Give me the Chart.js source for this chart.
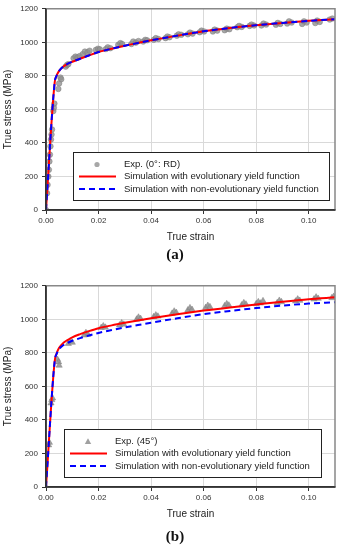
<!DOCTYPE html>
<html>
<head>
<meta charset="utf-8">
<script src="https://cdn.jsdelivr.net/npm/chart.js"></script>
<style>
  body { margin: 0; background: #fff; width: 340px; height: 550px; position: relative; overflow: hidden; }
  .box { position: absolute; left: 0; width: 340px; height: 250px; }
  .cap { position: absolute; width: 40px; left: 155px; text-align: center; font: bold 15px "Liberation Serif", "DejaVu Serif", serif; color: #111; }
</style>
</head>
<body>
<div class="box" style="top:0"><canvas id="chartA"></canvas></div>
<div class="cap" style="top:246px">(a)</div>
<div class="box" style="top:277px"><canvas id="chartB"></canvas></div>
<div class="cap" style="top:528px">(b)</div>
<script>
// ejes
const xTicks = [0, 0.02, 0.04, 0.06, 0.08, 0.10];
const yTicks = [0, 200, 400, 600, 800, 1000, 1200];

// curvas de simulacion (a) 0 grados
const simStrainA = [0, 0.0033, 0.004, 0.005, 0.0065, 0.008, 0.010, 0.013, 0.016, 0.02, 0.025, 0.03, 0.035, 0.04, 0.05, 0.06, 0.07, 0.08, 0.09, 0.10, 0.11];
const evoStressA = [0, 760, 800, 830, 855, 870, 884, 902, 920, 942, 962, 980, 996, 1012, 1040, 1066, 1086, 1102, 1116, 1128, 1138];
const nonStressA = [0, 760, 800, 830, 855, 870, 884, 902, 920, 942, 962, 980, 996, 1012, 1040, 1066, 1086, 1102, 1116, 1128, 1138];

// experimental (a)
const expStrainA = [0, 0.0004, 0.0006, 0.0009, 0.0011, 0.0013, 0.0015, 0.0017, 0.0019, 0.0021, 0.0023, 0.0028, 0.0030, 0.0032,
  0.0047, 0.0050, 0.0055, 0.0058,
  0.0075, 0.0080, 0.0085, 0.0105, 0.0112, 0.0120, 0.0128, 0.0140, 0.0148, 0.0158, 0.0166,
  0.0190, 0.0198, 0.0205, 0.0228, 0.0235, 0.0245, 0.0275, 0.0283, 0.0290,
  0.0325, 0.0332, 0.0342, 0.0352, 0.0370, 0.0378, 0.0385, 0.0410, 0.0418, 0.0428,
  0.0455, 0.0462, 0.0470, 0.0498, 0.0505, 0.0515, 0.0540, 0.0548, 0.0558,
  0.0585, 0.0592, 0.0602, 0.0635, 0.0642, 0.0652, 0.0680, 0.0688, 0.0698,
  0.0728, 0.0735, 0.0745, 0.0775, 0.0782, 0.0792, 0.0820, 0.0828, 0.0838,
  0.0875, 0.0882, 0.0892, 0.0918, 0.0925, 0.0935, 0.0975, 0.0982, 0.0992,
  0.1025, 0.1032, 0.1042, 0.1080, 0.1090];
const expStressA = [0, 100, 150, 200, 240, 290, 330, 380, 420, 450, 480, 590, 610, 635,
  722, 755, 790, 780,
  855, 865, 870, 905, 915, 910, 918, 930, 945, 940, 950,
  955, 962, 958, 960, 970, 965, 985, 995, 990,
  990, 1005, 998, 1008, 1005, 1015, 1012, 1015, 1025, 1020,
  1025, 1035, 1030, 1040, 1048, 1045, 1048, 1058, 1052,
  1060, 1070, 1065, 1065, 1076, 1070, 1072, 1082, 1078,
  1090, 1098, 1092, 1098, 1106, 1100, 1100, 1112, 1106,
  1105, 1116, 1110, 1112, 1125, 1118, 1110, 1125, 1118,
  1115, 1130, 1122, 1136, 1142];

// curvas de simulacion (b) 45 grados
const simStrainB = [0, 0.0033, 0.004, 0.005, 0.0065, 0.008, 0.010, 0.013, 0.016, 0.02, 0.025, 0.03, 0.035, 0.04, 0.05, 0.06, 0.07, 0.08, 0.09, 0.10, 0.11];
const evoStressB = [0, 750, 795, 830, 858, 875, 893, 912, 928, 947, 964, 979, 993, 1006, 1030, 1052, 1071, 1088, 1105, 1120, 1131];
const nonStressB = [0, 750, 792, 822, 845, 858, 872, 888, 902, 919, 936, 952, 966, 980, 1006, 1031, 1050, 1067, 1082, 1094, 1102];

// experimental (b)
const expStrainB = [0, 0.0010, 0.0013, 0.0019, 0.0022, 0.0025, 0.0044, 0.0048, 0.0050,
  0.0085, 0.0092, 0.0100, 0.0145, 0.0152, 0.0160, 0.0210, 0.0218, 0.0226,
  0.0280, 0.0288, 0.0296, 0.0345, 0.0352, 0.0360, 0.0410, 0.0418, 0.0426,
  0.0480, 0.0488, 0.0496, 0.0540, 0.0548, 0.0556, 0.0608, 0.0616, 0.0624,
  0.0680, 0.0688, 0.0696, 0.0745, 0.0753, 0.0761, 0.0800, 0.0808, 0.0816, 0.0826,
  0.0880, 0.0888, 0.0896, 0.0950, 0.0958, 0.0966, 0.1020, 0.1028, 0.1036, 0.1088, 0.1095];
const expStressB = [0, 250, 265, 500, 520, 530, 760, 745, 725,
  855, 870, 862, 905, 920, 910, 950, 960, 952,
  965, 978, 970, 1000, 1012, 1004, 1015, 1025, 1018,
  1035, 1048, 1040, 1055, 1068, 1058, 1070, 1082, 1074,
  1080, 1092, 1084, 1085, 1098, 1090, 1092, 1104, 1096, 1110,
  1098, 1112, 1104, 1108, 1120, 1112, 1120, 1132, 1124, 1128, 1136];

const FONT = '"Liberation Sans", Arial, sans-serif';

function toPoints(xs, ys) {
  return xs.map((x, i) => ({ x: x, y: ys[i] }));
}

// marco gris arriba / derecha
const plotFrame = {
  id: 'plotFrame',
  afterDatasetsDraw(chart) {
    const { ctx, chartArea: a } = chart;
    ctx.save();
    ctx.strokeStyle = '#888';
    ctx.lineWidth = 1.5;
    ctx.beginPath();
    ctx.moveTo(a.left, a.top);
    ctx.lineTo(a.right, a.top);
    ctx.lineTo(a.right, a.bottom);
    ctx.stroke();
    ctx.strokeStyle = '#333';
    ctx.beginPath();
    ctx.moveTo(a.left, a.top);
    ctx.lineTo(a.left, a.bottom);
    ctx.lineTo(a.right, a.bottom);
    ctx.stroke();
    ctx.restore();
  }
};

// leyenda con recuadro dentro del area
const legendBox = {
  id: 'legendBox',
  afterDraw(chart, args, opts) {
    const { ctx, chartArea: a } = chart;
    const left = a.right - opts.right - opts.width;
    const top = a.bottom - opts.bottom - opts.height;
    const rows = [12.5, 24.5, 37];
    ctx.save();
    ctx.fillStyle = '#fff';
    ctx.fillRect(left, top, opts.width, opts.height);
    ctx.strokeStyle = '#222';
    ctx.lineWidth = 1;
    ctx.strokeRect(left + 0.5, top + 0.5, opts.width, opts.height);
    chart.data.datasets.forEach((ds, i) => {
      const y = top + rows[i];
      if (ds.showLine) {
        ctx.strokeStyle = ds.borderColor;
        ctx.lineWidth = 2;
        ctx.setLineDash(ds.borderDash || []);
        ctx.beginPath();
        ctx.moveTo(left + 6, y);
        ctx.lineTo(left + 43, y);
        ctx.stroke();
        ctx.setLineDash([]);
      } else {
        const cx = left + 24;
        ctx.fillStyle = ds.backgroundColor;
        ctx.beginPath();
        if (ds.pointStyle === 'triangle') {
          ctx.moveTo(cx, y - 3.2);
          ctx.lineTo(cx + 3.2, y + 2.4);
          ctx.lineTo(cx - 3.2, y + 2.4);
          ctx.closePath();
        } else {
          ctx.arc(cx, y, 2.6, 0, Math.PI * 2);
        }
        ctx.fill();
      }
      ctx.fillStyle = '#222';
      ctx.font = '9.5px ' + FONT;
      ctx.textBaseline = 'middle';
      ctx.textAlign = 'left';
      ctx.fillText(ds.label, left + 51, y);
    });
    ctx.restore();
  }
};

function makeChart(id, expLabel, expStyle, exp, evo, non, legendPos) {
  const ctx = document.getElementById(id).getContext('2d');
  return new Chart(ctx, {
    type: 'scatter',
    data: {
      datasets: [
        {
          label: expLabel,
          data: exp,
          pointStyle: expStyle,
          pointRadius: expStyle === 'triangle' ? 3.6 : 2.8,
          backgroundColor: expStyle === 'triangle' ? 'rgba(150,150,150,0.9)' : 'rgba(145,145,145,0.8)',
          borderColor: 'rgba(125,125,125,0.9)',
          borderWidth: 0.5,
          showLine: false,
          order: 3,
        },
        {
          label: 'Simulation with evolutionary yield function',
          data: evo,
          showLine: true,
          borderColor: '#ff0000',
          backgroundColor: '#ff0000',
          borderWidth: 2,
          pointRadius: 0,
          cubicInterpolationMode: 'monotone',
          order: 2,
        },
        {
          label: 'Simulation with non-evolutionary yield function',
          data: non,
          showLine: true,
          borderColor: '#0000ff',
          backgroundColor: '#0000ff',
          borderWidth: 2,
          borderDash: [6, 4],
          pointRadius: 0,
          cubicInterpolationMode: 'monotone',
          order: 1,
        },
      ],
    },
    options: {
      responsive: true,
      maintainAspectRatio: false,
      animation: false,
      layout: { padding: { top: 7, right: 5, left: 0, bottom: 0 } },
      plugins: {
        legend: { display: false },
        tooltip: { enabled: false },
        legendBox: legendPos,
      },
      scales: {
        x: {
          type: 'linear',
          min: 0,
          max: 0.11,
          afterBuildTicks: (axis) => { axis.ticks = xTicks.map(v => ({ value: v })); },
          afterFit: (axis) => { axis.height = 40; },
          grid: { color: '#d9d9d9', lineWidth: 1, tickLength: 4, tickColor: '#333' },
          border: { color: '#333', width: 1.5 },
          ticks: {
            padding: 2,
            color: '#333',
            font: { family: FONT, size: 8 },
            maxRotation: 0,
            callback: (v) => v.toFixed(2),
          },
          title: {
            display: true,
            text: 'True strain',
            color: '#222',
            font: { family: FONT, size: 10 },
            padding: { top: 0, bottom: 7 },
          },
        },
        y: {
          min: 0,
          max: 1200,
          afterBuildTicks: (axis) => { axis.ticks = yTicks.map(v => ({ value: v })); },
          afterFit: (axis) => { axis.width = 46; },
          grid: { color: '#d9d9d9', lineWidth: 1, tickLength: 4, tickColor: '#333' },
          border: { color: '#333', width: 1.5 },
          ticks: {
            padding: 4,
            color: '#333',
            font: { family: FONT, size: 8 },
            callback: (v) => String(v),
          },
          title: {
            display: true,
            text: 'True stress (MPa)',
            color: '#222',
            font: { family: FONT, size: 10 },
            padding: { top: 2, bottom: 0 },
          },
        },
      },
    },
    plugins: [plotFrame, legendBox],
  });
}

makeChart('chartA', 'Exp. (0°: RD)', 'circle',
  toPoints(expStrainA, expStressA), toPoints(simStrainA, evoStressA), toPoints(simStrainA, nonStressA),
  { width: 256, height: 48, right: 6, bottom: 10 });

makeChart('chartB', 'Exp. (45°)', 'triangle',
  toPoints(expStrainB, expStressB), toPoints(simStrainB, evoStressB), toPoints(simStrainB, nonStressB),
  { width: 257, height: 48, right: 14, bottom: 10 });
</script>
</body>
</html>
